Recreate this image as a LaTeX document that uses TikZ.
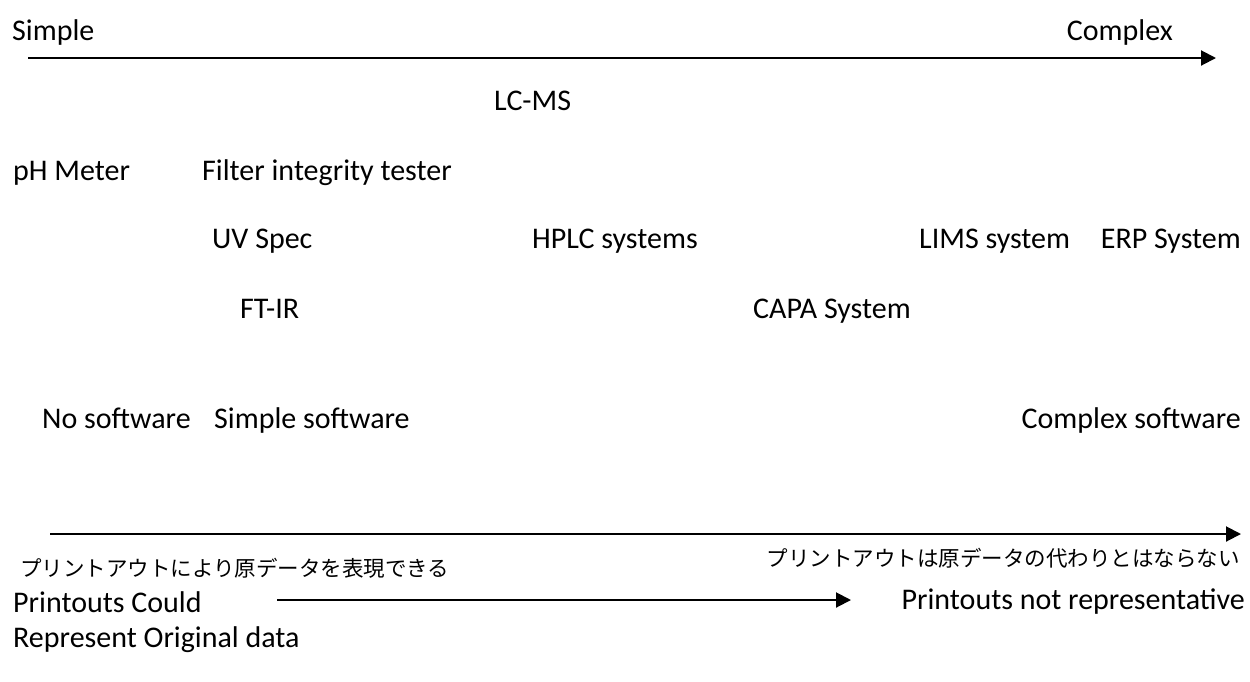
\documentclass[tikz,border=0pt]{standalone}
\usepackage{fontspec}
\setmainfont{Carlito}
\newfontfamily\jpfont{Noto Sans CJK JP}
\usetikzlibrary{arrows.meta}

\begin{document}
\begin{tikzpicture}[x=1pt,y=-1pt,
  lbl/.style={anchor=base west,inner sep=0pt,font=\fontsize{30}{36}\selectfont},
  lblr/.style={lbl,anchor=base east},
  jlbl/.style={anchor=base west,inner sep=0pt,font=\jpfont\fontsize{21.5}{26}\selectfont},
  scalearrow/.style={line width=2pt,-{Triangle[length=15pt,width=15pt]}}]
\useasboundingbox (0,0) rectangle (1250,681);

% complexity scale
\coordinate (cx-l) at (28,58);
\coordinate (cx-r) at (1216,58);
\draw[scalearrow] (cx-l)--(cx-r);
\node[lbl] (simple) at (12,40) {Simple};
\node[lblr] (complex) at (1173,40) {Complex};

% systems
\node[lbl] (lcms) at (494,110) {LC-MS};
\node[lbl] (ph) at (13,180) {pH Meter};
\node[lbl] (filter) at (202,180) {Filter integrity tester};
\node[lbl] (uv) at (212,248) {UV Spec};
\node[lbl] (hplc) at (532,248) {HPLC systems};
\node[lbl] (lims) at (919,248) {LIMS system};
\node[lblr] (erp) at (1241,248) {ERP System};
\node[lbl] (ftir) at (240,318) {FT-IR};
\node[lbl] (capa) at (753,318) {CAPA System};

% software
\node[lbl] (nosw) at (42,428) {No software};
\node[lbl] (simplesw) at (214,428) {Simple software};
\node[lblr] (complexsw) at (1241,428) {Complex software};
\coordinate (sw-l) at (50,534);
\coordinate (sw-r) at (1241,534);
\draw[scalearrow] (sw-l)--(sw-r);

% printouts
\node[jlbl] (jp-l) at (20,576) {プリントアウトにより原データを表現できる};
\node[jlbl,anchor=base east] (jp-r) at (1240,566) {プリントアウトは原データの代わりとはならない};
\node[lbl] (could) at (13,612) {Printouts Could};
\node[lbl] (orig) at (13,647) {Represent Original data};
\node[lblr] (notrep) at (1245,609) {Printouts not representative};
\coordinate (pr-l) at (277,600);
\coordinate (pr-r) at (851,600);
\draw[scalearrow] (pr-l)--(pr-r);
\end{tikzpicture}
\end{document}
